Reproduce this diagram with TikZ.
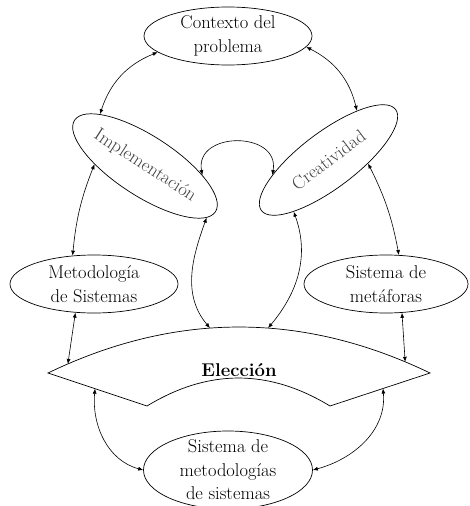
\documentclass[tikz,border=0pt]{standalone}
\usetikzlibrary{shapes.geometric,arrows.meta}
\begin{document}
\begin{tikzpicture}[x=1pt, y=1pt,
  every node/.style={font=\fontsize{18.5}{23.5}\selectfont, align=center},
  blob/.style={draw, ellipse, line width=0.7pt, inner sep=0pt, minimum width=168pt, minimum height=58pt},
  leaf/.style={blob, text=black!75, inner xsep=-6pt},
  link/.style={{Latex[length=5pt,width=4pt]}-{Latex[length=5pt,width=4pt]}, line width=0.6pt}]

  \useasboundingbox (0,0) rectangle (469,-506);

  % Top and middle ellipses
  \node[blob] (ctx) at (228,-36) {Contexto del\\problema};
  \node[leaf, rotate=-33, minimum height=60pt] (impl) at (145,-166) {Implementación};
  \node[leaf, rotate=37, minimum height=56pt] (crea) at (328.5,-160) {Creatividad};
  \node[blob] (met) at (94,-284) {Metodología\\de Sistemas};
  \node[blob, minimum width=164pt] (mef) at (386,-284) {Sistema de\\metáforas};

  % Bottom ellipse
  \node[blob, minimum width=169pt, minimum height=78pt, inner ysep=-4pt] (sms) at (228,-470) {Sistema de\\metodologías\\de sistemas};

  % Eleccion band
  \draw[line width=0.7pt] (48,-373) .. controls (175.3,-311.7) and (302.7,-311.7) .. (430,-373)
      coordinate[pos=0.052] (elL) coordinate[pos=0.424] (elT1)
      coordinate[pos=0.576] (elT2) coordinate[pos=0.935] (elR)
    -- (330,-406) coordinate[pos=0.47] (elBR)
    .. controls (268.7,-368.7) and (208.3,-368.7) .. (147,-406)
    -- (48,-373) coordinate[pos=0.525] (elBL) -- cycle;
  \node[font=\fontsize{18.5}{23.5}\selectfont\bfseries] (elec) at (239,-370) {Elección};

  % Arrows round the top
  \draw[link] (ctx.193) to[bend right=25] (impl.164);
  \draw[link] (ctx.352) to[bend left=25] (crea.23);
  \draw[link] (impl.211) to[bend right=8] (met.127);
  \draw[link] (crea.318) to[bend left=8] (mef.66);
  \draw[link] (impl.24) .. controls +(100:45) and +(80:45) .. (crea.158);

  % Arrows to the band
  \draw[link] (impl.353) to[out=250, in=130] (elT1);
  \draw[link] (crea.199) to[out=290, in=50] (elT2);
  \draw[link] (met.237) -- (elL);
  \draw[link] (mef.299) -- (elR);
  \draw[link] (elBL) to[out=265, in=165] (sms.180);
  \draw[link] (elBR) to[out=275, in=15] (sms.0);

\end{tikzpicture}
\end{document}
